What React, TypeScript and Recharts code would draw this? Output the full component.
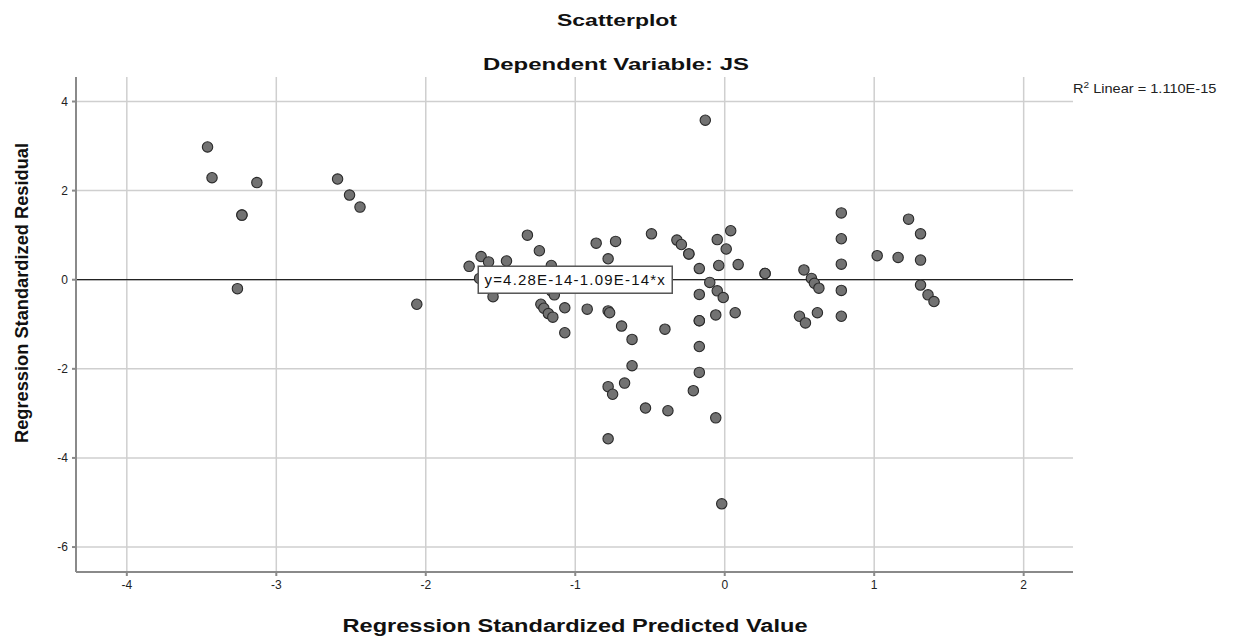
import React from "react";
import {
  ScatterChart,
  Scatter,
  XAxis,
  YAxis,
  CartesianGrid,
  ReferenceLine,
  ReferenceDot,
} from "recharts";

// predicted (x) / residual (y) pairs
const predicted = [
  -3.46, -3.43, -3.13, -3.23, -3.23, -3.26, -2.59, -2.51, -2.44, -2.06,
  -1.71, -1.63, -1.58, -1.64, -1.55, -1.46, -1.32, -1.24, -1.16, -1.16,
  -1.14, -1.23, -1.21, -1.18, -1.15, -1.07, -1.07, -0.92, -0.86, -0.73,
  -0.78, -0.78, -0.77, -0.69, -0.62, -0.62, -0.67, -0.78, -0.75, -0.78,
  -0.53, -0.38, -0.49, -0.4, -0.32, -0.29, -0.24, -0.24, -0.21, -0.17,
  -0.17, -0.17, -0.17, -0.17, -0.17, -0.13, -0.1, -0.05, -0.04, -0.05,
  -0.01, -0.06, -0.06, -0.02, 0.01, 0.04, 0.09, 0.07, 0.27, 0.27,
  0.53, 0.58, 0.6, 0.63, 0.5, 0.54, 0.62, 0.78, 0.78, 0.78,
  0.78, 0.78, 1.02, 1.16, 1.23, 1.31, 1.31, 1.31, 1.36, 1.4,
];
const residual = [
  2.98, 2.29, 2.18, 1.45, 1.45, -0.2, 2.26, 1.9, 1.63, -0.55,
  0.3, 0.52, 0.4, 0.03, -0.38, 0.42, 1.0, 0.65, 0.32, -0.25,
  -0.34, -0.55, -0.64, -0.76, -0.84, -0.63, -1.19, -0.66, 0.82, 0.86,
  0.47, -0.7, -0.74, -1.04, -1.34, -1.93, -2.32, -2.4, -2.57, -3.57,
  -2.88, -2.94, 1.03, -1.11, 0.89, 0.79, 0.58, 0.58, -2.49, 0.25,
  -0.33, -0.92, -1.5, -2.08, -0.92, 3.58, -0.06, 0.9, 0.32, -0.25,
  -0.4, -0.79, -3.1, -5.03, 0.69, 1.1, 0.34, -0.74, 0.14, 0.14,
  0.22, 0.03, -0.08, -0.19, -0.82, -0.97, -0.74, 1.5, 0.92, 0.35,
  -0.24, -0.82, 0.54, 0.5, 1.36, 1.03, 0.44, -0.12, -0.34, -0.49,
];

const xTicks = [-4, -3, -2, -1, 0, 1, 2];
const yTicks = [-6, -4, -2, 0, 2, 4];
const xDomain = [-4.34, 2.33];
const yDomain = [-6.56, 4.55];

// fit line y = a + b*x
const intercept = 4.28e-14;
const slope = -1.09e-14;
const fitLabel = "y=4.28E-14-1.09E-14*x";
const fitLabelAt = -1.0;

const points = predicted.map((x, i) => ({ x, y: residual[i] }));

const font = "'Liberation Sans', Arial, sans-serif";

const Dot = (props: any) => (
  <circle cx={props.cx} cy={props.cy} r={5.2} fill="#727272" stroke="#2a2a2a" strokeWidth={1.1} />
);

const FitBox = (props: any) => {
  const w = 194;
  const h = 27;
  return (
    <g>
      <rect x={props.cx - w / 2} y={props.cy - h / 2} width={w} height={h} fill="#fff" stroke="#555" strokeWidth={1.5} />
      <text
        x={props.cx}
        y={props.cy + 5}
        textAnchor="middle"
        fontSize={15}
        letterSpacing={1.2}
        fontFamily={font}
        fill="#111"
      >
        {fitLabel}
      </text>
    </g>
  );
};

export default function App() {
  return (
    <div style={{ position: "absolute", left: 0, top: 0, width: 1242, height: 639, background: "#fff", fontFamily: font }}>
      <ScatterChart width={1242} height={639} margin={{ top: 77, right: 169, bottom: 37, left: 0 }}>
        <CartesianGrid stroke="#cfcfcf" strokeWidth={1.5} horizontalValues={yTicks} verticalValues={xTicks} />
        <XAxis
          type="number"
          dataKey="x"
          domain={xDomain}
          ticks={xTicks}
          allowDataOverflow
          height={30}
          tickSize={4}
          tickMargin={4}
          stroke="#8a8a8a"
          strokeWidth={2}
          tick={{ fontSize: 12, fill: "#222", fontFamily: font }}
        />
        <YAxis
          type="number"
          dataKey="y"
          domain={yDomain}
          ticks={yTicks}
          allowDataOverflow
          width={76}
          tickSize={4}
          tickMargin={4}
          stroke="#8a8a8a"
          strokeWidth={2}
          tick={{ fontSize: 12, fill: "#222", fontFamily: font }}
        />
        <Scatter data={points} shape={Dot} isAnimationActive={false} />
        <ReferenceLine
          segment={[
            { x: xDomain[0], y: intercept + slope * xDomain[0] },
            { x: xDomain[1], y: intercept + slope * xDomain[1] },
          ]}
          stroke="#222"
          strokeWidth={1.3}
        />
        <ReferenceDot x={fitLabelAt} y={intercept + slope * fitLabelAt} shape={FitBox} />
      </ScatterChart>

      {/* titles, stretched like the SPSS output */}
      <svg width={1242} height={639} style={{ position: "absolute", left: 0, top: 0, pointerEvents: "none" }}>
        <g fontFamily={font} fontWeight="bold" fill="#111">
          <text x={617} y={25.5} fontSize={17} textAnchor="middle" textLength={120} lengthAdjust="spacingAndGlyphs">
            Scatterplot
          </text>
          <text x={616} y={69.5} fontSize={17} textAnchor="middle" textLength={266} lengthAdjust="spacingAndGlyphs">
            Dependent Variable: JS
          </text>
          <text x={575} y={632} fontSize={18} textAnchor="middle" textLength={465} lengthAdjust="spacingAndGlyphs">
            Regression Standardized Predicted Value
          </text>
          <text
            x={0}
            y={0}
            fontSize={18}
            textAnchor="middle"
            textLength={300}
            lengthAdjust="spacingAndGlyphs"
            transform="translate(28,293) rotate(-90)"
          >
            Regression Standardized Residual
          </text>
        </g>
      </svg>
      <div
        style={{
          position: "absolute",
          left: 1073,
          top: 80,
          fontSize: 13,
          color: "#222",
          whiteSpace: "nowrap",
          transform: "scaleX(1.12)",
          transformOrigin: "left center",
        }}
      >
        R<sup style={{ fontSize: 9 }}>2</sup> Linear = 1.110E-15
      </div>
    </div>
  );
}
